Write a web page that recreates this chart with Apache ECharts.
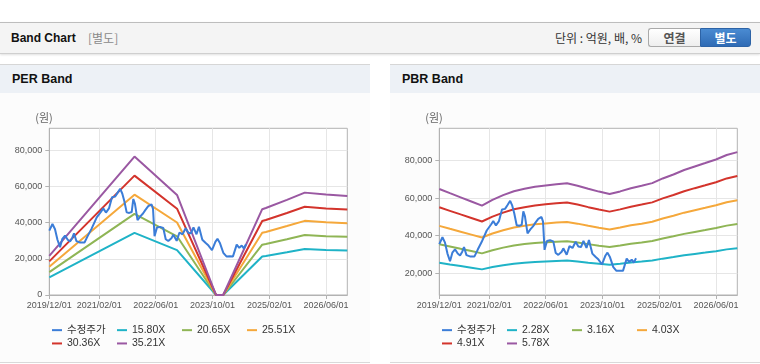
<!DOCTYPE html>
<html><head><meta charset="utf-8">
<script src="https://cdn.jsdelivr.net/npm/echarts@6/dist/echarts.min.js"></script>
<style>
html,body{margin:0;padding:0;width:760px;height:364px;overflow:hidden;background:#fff;font-family:'Liberation Sans',Arial,'Noto Sans CJK KR',sans-serif;}
.abs{position:absolute;}
#hdr{left:0;top:22px;width:760px;height:30px;background:#f4f4f4;border-top:1px solid #bdbdbd;border-bottom:1px solid #cfcfcf;box-shadow:0 1px 2px rgba(0,0,0,.12);}
#ttl{left:11px;top:23px;line-height:30px;font-size:12px;font-weight:bold;color:#111;}
#sub{left:88px;top:23px;line-height:30px;font-size:12px;color:#8a8a8a;font-family:'Noto Sans CJK KR',sans-serif;}
#unit{right:118px;top:23px;line-height:30px;font-size:12px;color:#333;font-family:'Noto Sans CJK KR',sans-serif;}
.btn{top:28px;height:17px;line-height:17px;text-align:center;font-size:12px;font-weight:bold;font-family:'Noto Sans CJK KR',sans-serif;}
#b1{left:648px;width:51px;border:1px solid #a9a9a9;border-right:none;border-radius:3px 0 0 3px;background:linear-gradient(#ffffff,#eeeeee);color:#555;}
#b2{left:700px;width:49px;border:1px solid #2d63a6;border-radius:0 3px 3px 0;background:linear-gradient(#4a8bd2,#2f6bb5);color:#fff;}
.pt{top:64px;height:28px;border-top:1px solid #d6d6d6;background:#edf1f6;}
.pt span{position:absolute;left:12px;top:0;line-height:29px;font-size:12.5px;font-weight:bold;color:#111;}
.pb{top:93px;height:269px;background:#fcfcfc;border-bottom:1px solid #d9d9d9;}
#chart{left:0;top:0;width:760px;height:364px;z-index:5;}
</style></head>
<body>
<div id="hdr" class="abs"></div>
<div id="ttl" class="abs">Band Chart</div>
<div id="sub" class="abs">[별도]</div>
<div id="unit" class="abs">단위 : 억원, 배, %</div>
<div id="b1" class="abs btn">연결</div>
<div id="b2" class="abs btn">별도</div>
<div class="abs pt" style="left:0;width:370px"><span>PER Band</span></div>
<div class="abs pt" style="left:390px;width:370px"><span>PBR Band</span></div>
<div class="abs pb" style="left:0;width:370px"></div>
<div class="abs pb" style="left:390px;width:370px"></div>
<div id="chart" class="abs"></div>
<script>
// ---- x-axis tick labels ----
const xTickLabels = ['2019/12/01','2021/02/01','2022/06/01','2023/10/01','2025/02/01','2026/06/01'];
const xStart = '2019/12/01', xEnd = '2026/12/01';

// ---- adjusted share price (수정주가) ----
const priceDates = ['2019-12-01','2019-12-28','2020-01-19','2020-02-09','2020-03-02','2020-03-22','2020-04-14','2020-05-07','2020-05-27','2020-06-15','2020-06-30','2020-07-21','2020-08-20','2020-09-28','2020-10-25','2020-11-27','2021-01-11','2021-02-17','2021-03-08','2021-03-31','2021-04-26','2021-05-22','2021-06-17','2021-07-10','2021-07-31','2021-08-18','2021-09-04','2021-09-25','2021-10-17','2021-11-07','2021-11-21','2021-12-05','2021-12-27','2022-01-22','2022-02-12','2022-03-05','2022-03-29','2022-04-26','2022-05-09','2022-05-22','2022-06-12','2022-07-08','2022-08-05','2022-08-26','2022-09-17','2022-10-16','2022-10-30','2022-11-28','2022-12-22','2023-01-17','2023-02-13','2023-03-08','2023-03-31','2023-04-21','2023-05-17','2023-06-07','2023-07-06','2023-08-02','2023-08-28','2023-09-27','2023-10-27','2023-11-13','2023-12-05','2024-01-02','2024-01-29','2024-02-28','2024-03-25','2024-04-26','2024-05-18','2024-06-08','2024-06-26','2024-07-15'];
const priceValues = [35500,39200,36300,30500,26400,31000,32800,30500,29500,31500,34000,29700,29000,29000,32500,36500,42800,46000,47800,45500,47800,54000,54300,56500,58600,56000,52000,45600,45300,45800,53000,50300,41300,43500,45000,47000,49000,50000,47500,32500,37200,37600,37000,30800,29800,31500,33300,29900,34500,33500,36800,34300,34000,37300,33500,37700,30500,28800,27300,24700,29500,31000,28500,23300,21300,21400,21300,27800,26000,27300,25700,28000];

// ---- PER band ----
const perNames = ['15.80X','20.65X','25.51X','30.36X','35.21X'];
const perDates = ['2019-12-01','2021-12-01','2022-12-01','2023-11-01','2024-01-01','2024-12-01','2025-01-01','2025-07-01','2025-12-01','2026-06-01','2026-12-01'];
const per1580 = [9670,34280,24790,0,0,21250,21540,23560,25350,24860,24540];
const per2065 = [12640,44810,32400,0,0,27770,28150,30790,33140,32490,32080];
const per2551 = [15610,55350,40030,0,0,34310,34780,38040,40930,40140,39630];
const per3036 = [18580,65880,47640,0,0,40830,41390,45270,48720,47770,47160];
const per3521 = [21550,76400,55250,0,0,47350,48000,52500,56500,55400,54700];
const perYTicks = [0,20000,40000,60000,80000];

// ---- PBR band ----
const pbrNames = ['2.28X','3.16X','4.03X','4.91X','5.78X'];
const pbrDates = ['2019-12-01','2020-03-01','2020-06-01','2020-09-01','2020-12-01','2021-03-01','2021-06-01','2021-09-01','2021-12-01','2022-03-01','2022-06-01','2022-09-01','2022-12-01','2023-03-01','2023-06-01','2023-09-01','2023-12-01','2024-03-01','2024-06-01','2024-09-01','2024-12-01','2025-03-01','2025-06-01','2025-09-01','2025-12-01','2026-03-01','2026-06-01','2026-09-01','2026-12-01'];
const pbr228 = [25600,24720,23850,22970,22090,23310,24300,25130,25640,26070,26350,26590,26780,26270,25640,25050,24540,25090,25760,26270,26820,27810,28640,29580,30330,31040,31790,32740,33330];
const pbr316 = [35480,34270,33050,31840,30620,32310,33680,34830,35540,36140,36520,36850,37120,36410,35540,34720,34010,34770,35700,36410,37180,38540,39690,41000,42040,43030,44070,45380,46200];
const pbr403 = [45250,43700,42150,40600,39050,41210,42950,44410,45320,46090,46580,46990,47340,46440,45320,44270,43370,44340,45530,46440,47410,49160,50620,52290,53620,54870,56200,57870,58920];
const pbr491 = [55130,53250,51350,49470,47570,50200,52330,54110,55220,56150,56750,57260,57680,56580,55220,53940,52840,54030,55470,56580,57760,59890,61670,63710,65330,66850,68470,70510,71780];
const pbr578 = [64900,62680,60450,58230,56000,59100,61600,63700,65000,66100,66800,67400,67900,66600,65000,63500,62200,63600,65300,66600,68000,70500,72600,75000,76900,78700,80600,83000,84500];
const pbrYTicks = [20000,40000,60000,80000];

const priceName = '수정주가';
const colors = {price:'#3b7dd8', c1:'#1fb3c7', c2:'#8fb555', c3:'#f5a83b', c4:'#d3342c', c5:'#9a58a2'};

function ts(s){ const p = s.split(/[-\/]/).map(Number); return new Date(p[0], p[1]-1, p[2]).getTime(); }
function pad(n){ return (n<10?'0':'')+n; }
function fmtDate(v){ const d = new Date(v); return d.getFullYear()+'/'+pad(d.getMonth()+1)+'/'+pad(d.getDate()); }
function fmtNum(v){ return String(Math.round(v)).replace(/\B(?=(\d{3})+(?!\d))/g, ','); }

const FONT = "'Liberation Sans', Arial, 'Noto Sans CJK KR', sans-serif";
const axisColor = '#b2b2b2';

function xAxis(gi){
  const tv = xTickLabels.map(ts);
  return {type:'value', gridIndex:gi, min:ts(xStart), max:ts(xEnd), scale:true,
    axisLine:{show:true, lineStyle:{color:axisColor}},
    axisTick:{show:true, length:4, lineStyle:{color:axisColor}, customValues:tv},
    axisLabel:{customValues:tv, formatter:fmtDate, fontSize:9, color:'#555', margin:6, fontFamily:FONT},
    splitLine:{show:true, lineStyle:{color:'#e6e6e6'}}};
}
function yAxis(gi, min, max, ticks){
  return {type:'value', gridIndex:gi, min, max,
    axisLine:{show:true, lineStyle:{color:axisColor}},
    axisTick:{show:true, length:4, lineStyle:{color:axisColor}, customValues:ticks},
    axisLabel:{customValues:ticks, formatter:fmtNum, fontSize:9, color:'#555', margin:7, fontFamily:FONT},
    splitLine:{show:true, lineStyle:{color:'#e6e6e6'}}};
}
function line(name, dates, vals, color, gi, z){
  return {type:'line', name, xAxisIndex:gi, yAxisIndex:gi, data:dates.map((d,i)=>[ts(d), vals[i]]),
    symbol:'none', showSymbol:false, lineStyle:{width:2, color}, itemStyle:{color}, z:z||2, animation:false};
}
function legend(left, names){
  return {left, top:323.5, width:262, padding:0, itemGap:0, itemWidth:10, itemHeight:2, icon:'rect',
    data:[priceName].concat(names),
    textStyle:{fontSize:10.5, color:'#333', width:50, lineHeight:13.3, fontFamily:FONT}};
}

const chart = echarts.init(document.getElementById('chart'), null, {renderer:'canvas'});
chart.setOption({
  animation:false,
  textStyle:{fontFamily:FONT},
  grid:[
    {left:49.3, top:128.3, width:298, height:166.7, show:true, borderColor:axisColor, backgroundColor:'#fff', outerBoundsMode:'none'},
    {left:439.3, top:128.3, width:298, height:166.7, show:true, borderColor:axisColor, backgroundColor:'#fff', outerBoundsMode:'none'}
  ],
  xAxis:[xAxis(0), xAxis(1)],
  yAxis:[yAxis(0, 0, 92000, perYTicks), yAxis(1, 8450, 97200, pbrYTicks)],
  legend:[legend(52, perNames), legend(442, pbrNames)],
  graphic:[
    {type:'text', x:44, y:118, style:{text:'(원)', textAlign:'center', textVerticalAlign:'middle', align:'center', verticalAlign:'middle', fill:'#666', font:"11px 'Noto Sans CJK KR'"}},
    {type:'text', x:434, y:118, style:{text:'(원)', textAlign:'center', textVerticalAlign:'middle', align:'center', verticalAlign:'middle', fill:'#666', font:"11px 'Noto Sans CJK KR'"}}
  ],
  series:[
    line(perNames[0], perDates, per1580, colors.c1, 0),
    line(perNames[1], perDates, per2065, colors.c2, 0),
    line(perNames[2], perDates, per2551, colors.c3, 0),
    line(perNames[3], perDates, per3036, colors.c4, 0),
    line(perNames[4], perDates, per3521, colors.c5, 0),
    line(priceName, priceDates, priceValues, colors.price, 0, 3),
    line(pbrNames[0], pbrDates, pbr228, colors.c1, 1),
    line(pbrNames[1], pbrDates, pbr316, colors.c2, 1),
    line(pbrNames[2], pbrDates, pbr403, colors.c3, 1),
    line(pbrNames[3], pbrDates, pbr491, colors.c4, 1),
    line(pbrNames[4], pbrDates, pbr578, colors.c5, 1),
    line(priceName, priceDates, priceValues, colors.price, 1, 3)
  ]
});
</script>
</body></html>
